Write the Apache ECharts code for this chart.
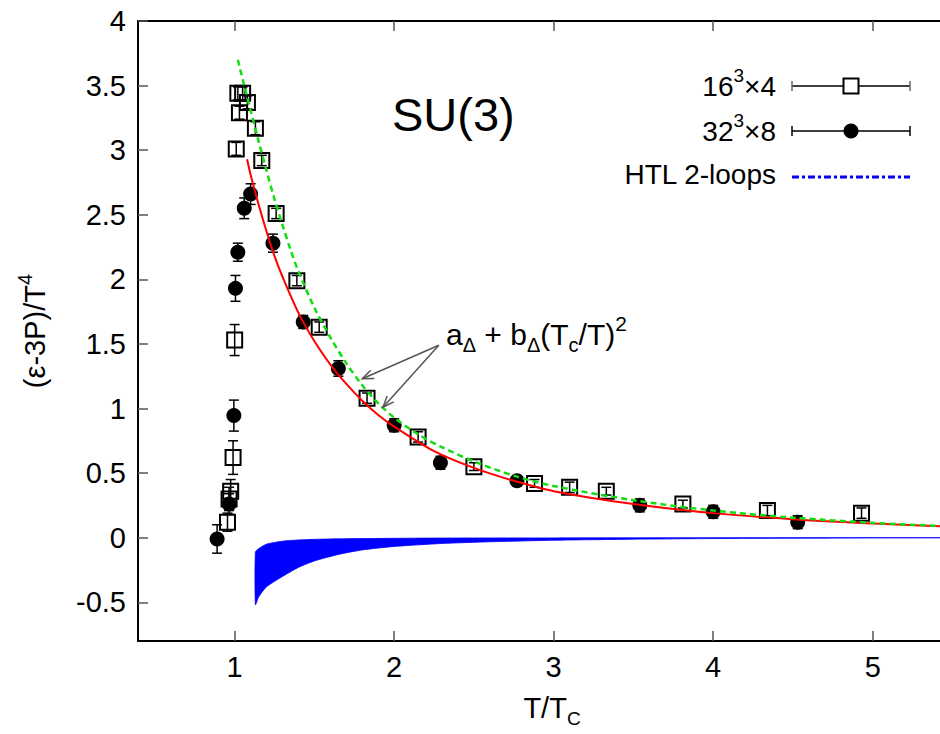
<!DOCTYPE html>
<html><head><meta charset="utf-8">
<script src="https://cdn.jsdelivr.net/npm/echarts@6/dist/echarts.min.js"></script>
<style>html,body{margin:0;padding:0;background:#fff;overflow:hidden}#c{width:940px;height:734px}</style>
</head><body><div id="c"></div>
<script>
const FONT = '"Liberation Sans", Arial, Helvetica, sans-serif';

// tick labels
const xTicks = [1, 2, 3, 4, 5];
const yTicks = [-0.5, 0, 0.5, 1, 1.5, 2, 2.5, 3, 3.5, 4];

// 16^3 x 4 lattice (open squares)
const sq16X   = [0.955, 0.965, 0.975, 0.99, 1.00, 1.01, 1.02, 1.05, 1.08, 1.03, 1.13, 1.17, 1.26, 1.39, 1.53, 1.83, 2.15, 2.50, 2.88, 3.10, 3.33, 3.81, 4.34, 4.93];
const sq16Y   = [0.12, 0.30, 0.36, 0.62, 1.53, 3.01, 3.44, 3.44, 3.37, 3.29, 3.17, 2.92, 2.51, 1.99, 1.63, 1.08, 0.78, 0.55, 0.42, 0.39, 0.36, 0.26, 0.21, 0.19];
const sq16Err = [0.07, 0.09, 0.09, 0.13, 0.12, 0.05, 0.05, 0.05, 0.05, 0.05, 0.05, 0.04, 0.04, 0.04, 0.04, 0.04, 0.04, 0.03, 0.03, 0.04, 0.03, 0.03, 0.04, 0.04];

// 32^3 x 8 lattice (filled circles)
const c32X   = [0.89, 0.965, 0.995, 1.005, 1.02, 1.06, 1.10, 1.24, 1.43, 1.65, 2.00, 2.29, 2.77, 3.54, 4.00, 4.53];
const c32Y   = [-0.01, 0.26, 0.945, 1.93, 2.21, 2.55, 2.66, 2.28, 1.67, 1.31, 0.87, 0.58, 0.44, 0.25, 0.20, 0.12];
const c32Err = [0.11, 0.08, 0.12, 0.10, 0.07, 0.08, 0.08, 0.07, 0.05, 0.06, 0.05, 0.05, 0.04, 0.05, 0.05, 0.05];

// fit curves a + b (Tc/T)^2
const fitRedX   = [1.078, 1.1, 1.15, 1.2, 1.25, 1.3, 1.4, 1.5, 1.6, 1.7, 1.8, 1.9, 2.0, 2.25, 2.5, 2.75, 3.0, 3.5, 4.0, 4.5, 5.0, 5.43];
const fitRedY   = [2.93, 2.81, 2.58, 2.37, 2.18, 2.02, 1.74, 1.52, 1.34, 1.19, 1.06, 0.95, 0.86, 0.67, 0.54, 0.44, 0.36, 0.26, 0.19, 0.143, 0.11, 0.088];
const fitGreenX = [1.02, 1.06, 1.1, 1.15, 1.2, 1.25, 1.3, 1.35, 1.4, 1.5, 1.6, 1.7, 1.8, 1.9, 2.0, 2.15, 2.3, 2.5, 2.75, 3.0, 3.5, 4.0, 4.5, 5.0, 5.43];
const fitGreenY = [3.70, 3.50, 3.31, 3.07, 2.84, 2.62, 2.42, 2.23, 2.06, 1.78, 1.55, 1.35, 1.18, 1.04, 0.93, 0.80, 0.70, 0.59, 0.48, 0.40, 0.29, 0.21, 0.155, 0.115, 0.09];

// HTL 2-loops band
const htlX     = [1.13, 1.15, 1.2, 1.3, 1.4, 1.5, 1.65, 1.8, 2.0, 2.3, 2.6, 3.0, 3.5, 4.0, 4.5, 5.0, 5.43];
const htlUpper = [-0.11, -0.085, -0.05, -0.027, -0.018, -0.013, -0.009, -0.007, -0.005, -0.003, -0.002, -0.002, -0.001, 0, 0, 0, 0];
const htlLower = [-0.52, -0.46, -0.38, -0.30, -0.23, -0.18, -0.13, -0.095, -0.068, -0.045, -0.032, -0.02, -0.012, -0.007, -0.004, -0.002, -0.001];

// annotation arrows: [fromX, fromY, toX, toY]
const arrows = [[2.28, 1.49, 1.80, 1.23], [2.28, 1.49, 1.93, 1.01]];

const zip = (a, b, c) => a.map((v, i) => c ? [v, b[i], c[i]] : [v, b[i]]);

function errRender(params, api) {
  const x = api.value(0), y = api.value(1), e = api.value(2);
  const t = api.coord([x, y + e]), b = api.coord([x, y - e]);
  const w = 5;
  const st = { stroke: '#000', lineWidth: 1.5, fill: null };
  return { type: 'group', children: [
    { type: 'line', shape: { x1: t[0], y1: t[1], x2: b[0], y2: b[1] }, style: st },
    { type: 'line', shape: { x1: t[0] - w, y1: t[1], x2: t[0] + w, y2: t[1] }, style: st },
    { type: 'line', shape: { x1: b[0] - w, y1: b[1], x2: b[0] + w, y2: b[1] }, style: st }
  ]};
}

function bandRender(params, api) {
  if (params.dataIndex !== 0) return null;
  const pts = [];
  for (let i = 0; i < htlX.length; i++) pts.push(api.coord([htlX[i], htlUpper[i]]));
  for (let i = htlX.length - 1; i >= 0; i--) pts.push(api.coord([htlX[i], htlLower[i]]));
  return { type: 'polygon', shape: { points: pts, smooth: 0.2 }, style: { fill: '#0000ff', stroke: '#0000ff', lineWidth: 0.8 } };
}

function arrowRender(params, api) {
  const p0 = api.coord([api.value(0), api.value(1)]);
  const p1 = api.coord([api.value(2), api.value(3)]);
  const ang = Math.atan2(p1[1] - p0[1], p1[0] - p0[0]);
  const L = 12, a = 0.38;
  const st = { stroke: '#555', lineWidth: 1.5, fill: null };
  const h1 = [p1[0] - L * Math.cos(ang - a), p1[1] - L * Math.sin(ang - a)];
  const h2 = [p1[0] - L * Math.cos(ang + a), p1[1] - L * Math.sin(ang + a)];
  return { type: 'group', children: [
    { type: 'line', shape: { x1: p0[0], y1: p0[1], x2: p1[0], y2: p1[1] }, style: st },
    { type: 'polyline', shape: { points: [h1, p1, h2] }, style: st }
  ]};
}

const rich = {
  n:   { fontSize: 29, lineHeight: 40, fontFamily: FONT, color: '#000' },
  sub: { fontSize: 19, lineHeight: 19, verticalAlign: 'bottom', fontFamily: FONT, color: '#000' },
  sup: { fontSize: 20, lineHeight: 14, verticalAlign: 'top', fontFamily: FONT, color: '#000' },
  a:   { fontSize: 30, lineHeight: 42, fontFamily: FONT, color: '#000' },
  asub:{ fontSize: 20, lineHeight: 20, verticalAlign: 'bottom', fontFamily: FONT, color: '#000' },
  asup:{ fontSize: 21, lineHeight: 14, verticalAlign: 'top', fontFamily: FONT, color: '#000' },
  ln:  { fontSize: 28, lineHeight: 40, fontFamily: FONT, color: '#000' },
  lsup:{ fontSize: 19, lineHeight: 14, verticalAlign: 'top', fontFamily: FONT, color: '#000' }
};

const chart = echarts.init(document.getElementById('c'), null, { renderer: 'svg' });

const axisLabelStyle = { fontSize: 29, fontFamily: FONT, color: '#000' };
const X_MIN = 0.394, X_MAX = 5.585;

chart.setOption({
  animation: false,
  backgroundColor: '#fff',
  grid: { left: 138, top: 21, width: 828, height: 620, containLabel: false, outerBoundsMode: 'none' },
  xAxis: [
    { type: 'value', min: X_MIN, max: X_MAX, position: 'bottom',
      axisLine: { show: true, onZero: false, lineStyle: { color: '#000', width: 2 } },
      axisTick: { show: true, inside: true, length: 10, customValues: xTicks, lineStyle: { color: '#555', width: 1.5 } },
      axisLabel: Object.assign({ customValues: xTicks, margin: 11 }, axisLabelStyle),
      splitLine: { show: false } },
    { type: 'value', min: X_MIN, max: X_MAX, position: 'top',
      axisLine: { show: true, onZero: false, lineStyle: { color: '#000', width: 2 } },
      axisTick: { show: true, inside: true, length: 10, customValues: xTicks, lineStyle: { color: '#555', width: 1.5 } },
      axisLabel: { show: false }, splitLine: { show: false } }
  ],
  yAxis: [
    { type: 'value', min: -0.8, max: 4, position: 'left',
      axisLine: { show: true, onZero: false, lineStyle: { color: '#000', width: 2 } },
      axisTick: { show: true, inside: true, length: 10, customValues: yTicks, lineStyle: { color: '#555', width: 1.5 } },
      axisLabel: Object.assign({ customValues: yTicks, margin: 12, formatter: v => String(v) }, axisLabelStyle),
      splitLine: { show: false } }
  ],
  series: [
    { name: 'HTL 2-loops', type: 'custom', renderItem: bandRender, data: zip(htlX, htlLower), encode: { x: 0, y: 1 }, clip: true, z: 1, silent: true },
    { name: '16³×4 err', type: 'custom', renderItem: errRender, data: zip(sq16X, sq16Y, sq16Err), encode: { x: 0, y: 1 }, z: 2, silent: true },
    { name: '32³×8 err', type: 'custom', renderItem: errRender, data: zip(c32X, c32Y, c32Err), encode: { x: 0, y: 1 }, z: 2, silent: true },
    { name: '16³×4', type: 'scatter', symbol: 'rect', symbolSize: 15, data: zip(sq16X, sq16Y), z: 3,
      itemStyle: { color: 'rgba(255,255,255,0)', borderColor: '#000', borderWidth: 2, opacity: 1 } },
    { name: '32³×8', type: 'scatter', symbol: 'circle', symbolSize: 15, data: zip(c32X, c32Y), z: 3,
      itemStyle: { color: '#000', opacity: 1 } },
    { name: 'fit 32', type: 'line', data: zip(fitRedX, fitRedY), smooth: 0.3, showSymbol: false, symbol: 'none',
      lineStyle: { color: '#ff0000', width: 2 }, z: 4 },
    { name: 'fit 16', type: 'line', data: zip(fitGreenX, fitGreenY), smooth: 0.3, showSymbol: false, symbol: 'none',
      lineStyle: { color: '#11dd11', width: 2.5, type: [6, 4] }, z: 5 },
    { name: 'arrows', type: 'custom', renderItem: arrowRender, data: arrows, encode: { x: [0, 2], y: [1, 3] }, z: 6, silent: true, clip: false }
  ],
  graphic: [
    { type: 'text', x: 392, y: 114, style: { text: 'SU(3)', fontSize: 47, fontFamily: FONT, fill: '#000', align: 'left', verticalAlign: 'middle' } },
    { type: 'text', x: 446, y: 334, style: {
        text: '{a|a}{asub|Δ}{a| + b}{asub|Δ}{a|(T}{asub|c}{a|/T)}{asup|2}', rich: rich, align: 'left', verticalAlign: 'middle' } },
    { type: 'text', x: 552, y: 708, style: {
        text: '{n|T/T}{sub|C}', rich: rich, align: 'center', verticalAlign: 'middle' } },
    { type: 'text', x: 35, y: 331, rotation: Math.PI / 2, style: {
        text: '{n|(ε-3P)/T}{sup|4}', rich: rich, align: 'center', verticalAlign: 'middle' } },
    // legend
    { type: 'text', x: 776, y: 86, style: { text: '{ln|16}{lsup|3}{ln|×4}', rich: rich, align: 'right', verticalAlign: 'middle' } },
    { type: 'text', x: 776, y: 131, style: { text: '{ln|32}{lsup|3}{ln|×8}', rich: rich, align: 'right', verticalAlign: 'middle' } },
    { type: 'text', x: 776, y: 174, style: { text: 'HTL 2-loops', fontSize: 28, fontFamily: FONT, fill: '#000', align: 'right', verticalAlign: 'middle' } },
    { type: 'line', shape: { x1: 792, y1: 86, x2: 910, y2: 86 }, style: { stroke: '#000', lineWidth: 1.5 } },
    { type: 'line', shape: { x1: 792, y1: 81, x2: 792, y2: 91 }, style: { stroke: '#666', lineWidth: 1.5 } },
    { type: 'line', shape: { x1: 910, y1: 81, x2: 910, y2: 91 }, style: { stroke: '#666', lineWidth: 1.5 } },
    { type: 'rect', shape: { x: 843.5, y: 78.5, width: 15, height: 15 }, style: { fill: '#fff', stroke: '#000', lineWidth: 2 } },
    { type: 'line', shape: { x1: 792, y1: 131, x2: 910, y2: 131 }, style: { stroke: '#000', lineWidth: 1.5 } },
    { type: 'line', shape: { x1: 792, y1: 126, x2: 792, y2: 136 }, style: { stroke: '#000', lineWidth: 1.5 } },
    { type: 'line', shape: { x1: 910, y1: 126, x2: 910, y2: 136 }, style: { stroke: '#000', lineWidth: 1.5 } },
    { type: 'circle', shape: { cx: 851, cy: 131, r: 7.5 }, style: { fill: '#000' } },
    { type: 'line', shape: { x1: 792, y1: 177, x2: 910, y2: 177 }, style: { stroke: '#0000ff', lineWidth: 3, lineDash: [7, 3, 3, 3] } }
  ]
});
</script>
</body></html>
